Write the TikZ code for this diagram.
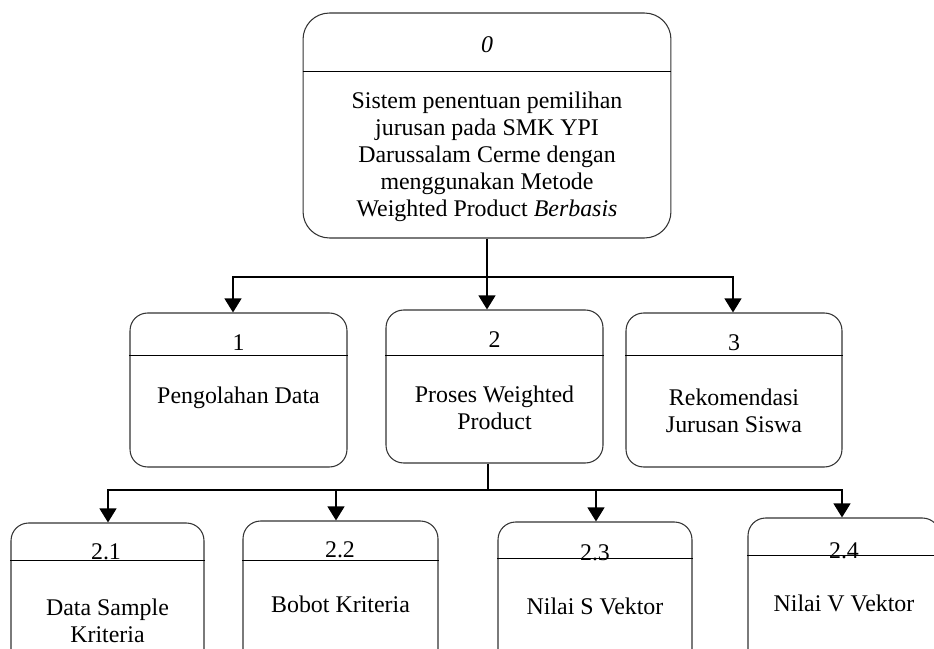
\documentclass[tikz,border=0pt]{standalone}
\usepackage{fontspec}
\setmainfont{Liberation Serif}
\usetikzlibrary{arrows.meta,calc}
\begin{document}
\begin{tikzpicture}[x=0.02cm, y=-0.02cm,
        proc/.style={draw=black!80, line width=0.6pt, rounded corners=10pt, inner sep=0pt},
        txt/.style={font=\fontsize{13.6}{15.3}\selectfont, align=center, inner sep=0pt},
        divider/.style={black, line width=1.1pt},
        flow/.style={black, line width=1.3pt, -{Triangle[width=9.5pt, length=8pt]}}]
        % Page: 934 x 649 px, y grows downwards
        \useasboundingbox (0,0) rectangle (934,649);

        % Boxes
        \node[proc, rounded corners=15pt, minimum width=7.36cm, minimum height=4.5cm] (p0) at (487,125.5) {};
        \node[proc, minimum width=4.34cm, minimum height=3.08cm] (p1) at (238.5,390) {};
        \node[proc, minimum width=4.34cm, minimum height=3.06cm] (p2) at (494.5,386.5) {};
        \node[proc, minimum width=4.32cm, minimum height=3.08cm] (p3) at (734,390) {};

        \node[proc, minimum width=3.86cm, minimum height=3.14cm] (p21) at (107.5,601.5) {};
        \node[proc, minimum width=3.9cm, minimum height=3.18cm] (p22) at (340.5,600.5) {};
        \node[proc, minimum width=3.88cm, minimum height=3.16cm] (p23) at (595,601) {};
        \node[proc, minimum width=3.84cm, minimum height=3.24cm] (p24) at (844,599) {};

        % Dividers
        \draw[divider] ($(p0.north west)+(0,59)$) -- ($(p0.north east)+(0,59)$);
        \draw[divider] ($(p1.north west)+(0,43)$) -- ($(p1.north east)+(0,43)$);
        \draw[divider] ($(p2.north west)+(0,46)$) -- ($(p2.north east)+(0,46)$);
        \draw[divider] ($(p3.north west)+(0,43)$) -- ($(p3.north east)+(0,43)$);
        \draw[divider] ($(p21.north west)+(0,38)$) -- ($(p21.north east)+(0,38)$);
        \draw[divider] ($(p22.north west)+(0,40)$) -- ($(p22.north east)+(0,40)$);
        \draw[divider] ($(p23.north west)+(0,37)$) -- ($(p23.north east)+(0,37)$);
        \draw[divider] ($(p24.north west)+(0,38)$) -- ($(p24.north east)+(0,38)$);

        % Numbers
        \node[txt, anchor=base] (n0) at (487,52) {\textit{0}};
        \node[txt, anchor=base] (n1) at (238.5,350) {1};
        \node[txt, anchor=base] (n2) at (494.5,347) {2};
        \node[txt, anchor=base] (n3) at (734,350) {3};
        \node[txt, anchor=base] (n21) at (106,559) {2.1};
        \node[txt, anchor=base] (n22) at (340,557) {2.2};
        \node[txt, anchor=base] (n23) at (595,560) {2.3};
        \node[txt, anchor=base] (n24) at (844,558) {2.4};

        % Texts
        \node[txt] (t0) at (487,157) {Sistem penentuan pemilihan\\jurusan pada SMK YPI\\Darussalam Cerme dengan\\menggunakan Metode\\Weighted Product \textit{Berbasis}};
        \node[txt] (t1) at (238.5,398) {Pengolahan Data};
        \node[txt] (t2) at (494.5,408) {Proses Weighted\\Product};
        \node[txt] (t3) at (734,411) {Rekomendasi\\Jurusan Siswa};
        \node[txt] (t21) at (107.5,621) {Data Sample\\Kriteria};
        \node[txt] (t22) at (340.5,604) {Bobot Kriteria};
        \node[txt] (t23) at (595,606) {Nilai S Vektor};
        \node[txt] (t24) at (844,603) {Nilai V Vektor};

        % Edges
        \coordinate (j0) at (487,277);
        \coordinate (b1) at (233,277);
        \coordinate (b3) at (733,277);
        \coordinate (j1) at (488,490);
        \coordinate (c1) at (108,490);
        \coordinate (c2) at (336,490);
        \coordinate (c3) at (596,490);
        \coordinate (c4) at (842,490);

        \draw[flow] (p0.south) -- (j0) -- (b1) -- (b1 |- p1.north);
        \draw[flow] (j0) -- (b3) -- (b3 |- p3.north);
        \draw[flow] (j0) -- (j0 |- p2.north);

        \draw[black, line width=1.3pt] (j1 |- p2.south) -- (j1);
        \foreach \c/\p in {c1/p21, c2/p22, c3/p23, c4/p24}
            \draw[flow] (j1) -- (\c) -- (\c |- \p.north);
\end{tikzpicture}
\end{document}
